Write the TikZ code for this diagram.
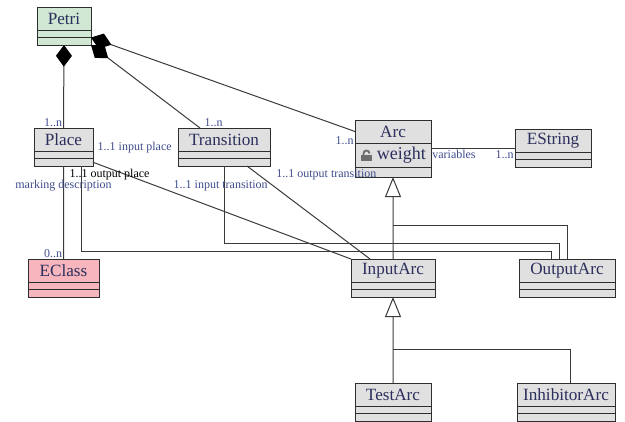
\documentclass[tikz,border=0pt]{standalone}
\usepackage{fontspec}
\setmainfont{Liberation Serif}
\usepackage{xcolor}
\usetikzlibrary{arrows.meta,positioning,calc,shadows}
\definecolor{classbg}{HTML}{E0E0E0}
\definecolor{rootbg}{HTML}{CFE7D3}
\definecolor{extbg}{HTML}{F7B5BD}
\definecolor{classline}{HTML}{2E2E2E}
\definecolor{classtext}{HTML}{2B2F5C}
\definecolor{multtext}{HTML}{3F4C8C}
\definecolor{wire}{HTML}{3A3A3A}
\definecolor{lockgray}{HTML}{6E6E6E}

% one UML class: head + two empty compartments
\newcommand{\umlclass}[5][classbg]{%
  \node[classhead, fill=#1, minimum width=#4, anchor=north west] (#2) at (#3) {#5};
  \node[classpart, fill=#1, minimum width=#4, anchor=north] (#2-a) at (#2.south) {};
  \node[classpart, fill=#1, minimum width=#4, anchor=north] (#2-b) at (#2-a.south) {};
}

\begin{document}
\begin{tikzpicture}[x=0.6pt, y=-0.6pt,
  classhead/.style={draw=classline, line width=0.6pt, text=classtext, inner sep=0pt, outer sep=0pt, minimum height=13.8pt, font=\fontsize{10.3}{12}\selectfont, drop shadow={shadow xshift=0.7pt, shadow yshift=-0.7pt, opacity=0.3}},
  classpart/.style={draw=classline, line width=0.6pt, inner sep=0pt, outer sep=0pt, minimum height=4.5pt, drop shadow={shadow xshift=0.7pt, shadow yshift=-0.7pt, opacity=0.3}},
  wire/.style={draw=wire, line width=0.6pt},
  comp/.style={wire, -{Diamond[length=13pt, width=9.6pt, black]}},
  gen/.style={wire, -{Triangle[open, length=12pt, width=9.6pt, fill=white]}},
  mult/.style={text=multtext, inner sep=0.5pt, font=\fontsize{7.2}{8}\selectfont}
]
  \useasboundingbox (0,0) rectangle (625,421);

  % classes
  \umlclass[rootbg]{petri}{37,7}{32.4pt}{Petri}
  \umlclass{place}{34,128}{35.4pt}{Place}
  \umlclass{transition}{178,128}{55.2pt}{Transition}
  \umlclass{estring}{515,129}{45.6pt}{EString}
  \umlclass[extbg]{eclass}{28,259}{42.6pt}{EClass}
  \umlclass{inputarc}{351,259}{50.4pt}{InputArc}
  \umlclass{outputarc}{519,259}{57.6pt}{OutputArc}
  \umlclass{testarc}{355,383}{45.6pt}{TestArc}
  \umlclass{inhibitorarc}{517,383}{58.8pt}{InhibitorArc}

  % Arc, with its attribute
  \node[classhead, fill=classbg, minimum width=45.6pt, anchor=north west] (arc) at (355,120) {Arc};
  \node[classhead, fill=classbg, minimum width=45.6pt, minimum height=14.4pt, anchor=north, font=\fontsize{10.8}{12}\selectfont] (arc-a) at (arc.south) {\hspace{10pt}weight};
  \node[classpart, fill=classbg, minimum width=45.6pt, minimum height=6pt, anchor=north] (arc-b) at (arc-a.south) {};
  \fill[lockgray] ($(arc-a.west)+(6,0)$) rectangle ($(arc-a.west)+(17,5.5)$);
  \draw[lockgray, line width=1.1pt] ($(arc-a.west)+(8.5,0)$) -- ++(0,-1.5) arc[start angle=180, end angle=360, radius=3];

  % composition
  \draw[comp] (place.north) -- (petri-b.south) node[mult, pos=0, anchor=south east] {1..n};
  \draw[comp] ($(transition.north west)+(22,0)$) -- (petri-b.south east) node[mult, pos=0, anchor=south west, xshift=2pt] {1..n};
  \draw[comp] (arc.west) -- (petri-a.south east) node[mult, pos=0, anchor=north east, yshift=-2pt] {1..n};

  % associations
  \coordinate (varl) at ($(arc-a.north east)+(0,5)$);
  \draw[wire] (varl) -- (varl -| estring.west) node[mult, pos=0, anchor=north west, yshift=-0.5pt] {variables} node[mult, pos=1, anchor=north east, yshift=-0.5pt] {1..n};
  \draw[wire] (place-b.east) -- (inputarc.north west) node[mult, pos=0, anchor=south west, xshift=2pt, yshift=4.5pt] {1..1 input place};
  \draw[wire] (place-b.south) -- (eclass.north) node[mult, pos=0, anchor=north, yshift=-8pt] {marking description} node[mult, pos=1, anchor=south east] {0..n};
  \draw[wire] ($(place-b.south)+(18,0)$) node[mult, text=black, anchor=north west, xshift=-8pt, yshift=-1pt] {1..1 output place} |- ($(outputarc.north west)+(32,-8)$) -- ($(outputarc.north west)+(32,0)$);
  \draw[wire] (transition-b.south) node[mult, anchor=north, xshift=-2pt, yshift=-8pt] {1..1 input transition} |- ($(outputarc.north west)+(40,-16)$) -- ($(outputarc.north west)+(40,0)$);
  \draw[wire] ($(transition-b.south east)+(-23,0)$) node[mult, anchor=north west, xshift=16.8pt, yshift=-1.5pt] {1..1 output transition} -- ($(inputarc.north west)+(19,0)$);

  % generalization
  \draw[gen] (inputarc.north) -- (arc-b.south);
  \draw[wire] (outputarc.north) |- ($(inputarc.north)+(0,-34)$);
  \draw[gen] (testarc.north) -- (inputarc-b.south);
  \draw[wire] ($(inhibitorarc.north)+(4,0)$) |- ($(testarc.north)+(0,-34)$);
\end{tikzpicture}
\end{document}
